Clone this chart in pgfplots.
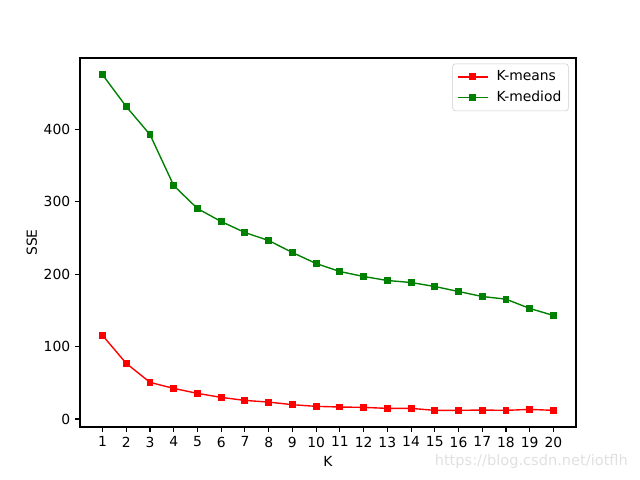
\documentclass[border=0pt]{standalone}
\usepackage{pgfplots}
\pgfplotsset{compat=1.18}
\usepackage{fontspec}
\setmainfont{DejaVu Sans}
\begin{document}
\begin{tikzpicture}
\path[use as bounding box] (-57.6pt,-38.16pt) rectangle (403.2pt,307.44pt);
\begin{axis}[
  at={(0,0)}, anchor=south west,
  scale only axis, width=357.12pt, height=265.68pt,
  xmin=0.05, xmax=20.95, ymin=-11, ymax=498.5,
  xtick={1,...,20}, ytick={0,100,200,300,400},
  tick align=outside, tick pos=left,
  major tick length=3.5pt,
  tick style={black, line width=0.8pt},
  axis line style={line width=0.8pt},
  /pgf/number format/assume math mode=true,
  tick label style={font=\fontsize{10}{12}\selectfont},
  label style={font=\fontsize{10}{12}\selectfont},
  xlabel={K}, ylabel={SSE},
  xlabel style={yshift=0pt},
  ylabel style={yshift=-2pt},
  legend style={at={(0.985,0.985)}, anchor=north east, draw=black!20, rounded corners=2pt, font=\fontsize{10}{12}\selectfont, row sep=2pt, inner xsep=3pt, inner ysep=3pt},
  legend cell align=left,
  legend image code/.code={
    \draw[#1, mark repeat=2, mark phase=2] plot coordinates {(0cm,0cm) (0.38cm,0cm) (0.76cm,0cm)};
  },
]
\addplot[red, line width=1pt, mark=square*, mark size=2pt, mark options={solid}] coordinates {
(1,115.4) (2,76.8) (3,50.6) (4,42.3) (5,35.4) (6,29.9) (7,25.7) (8,23.4) (9,19.8) (10,17.5)
(11,16.6) (12,16.1) (13,14.7) (14,14.7) (15,12.0) (16,12.0) (17,12.4) (18,12.0) (19,13.3) (20,12.0)
};
\addlegendentry{\hspace{4pt}K-means}
\addplot[color={rgb,1:red,0;green,0.5;blue,0}, line width=1pt, mark=square*, mark size=2pt, mark options={solid}] coordinates {
(1,475.4) (2,431.3) (3,392.7) (4,322.3) (5,290.6) (6,272.7) (7,257.5) (8,246.5) (9,229.9) (10,214.7)
(11,203.7) (12,196.8) (13,191.3) (14,188.5) (15,183.0) (16,176.1) (17,169.2) (18,165.5) (19,152.7) (20,143.0)
};
\addlegendentry{\hspace{4pt}K-mediod}
\end{axis}
\node[anchor=east, text=black!12, font=\fontsize{10.5}{12}\selectfont] at (398pt,-25pt) {https://blog.csdn.net/iotflh};
\end{tikzpicture}
\end{document}
